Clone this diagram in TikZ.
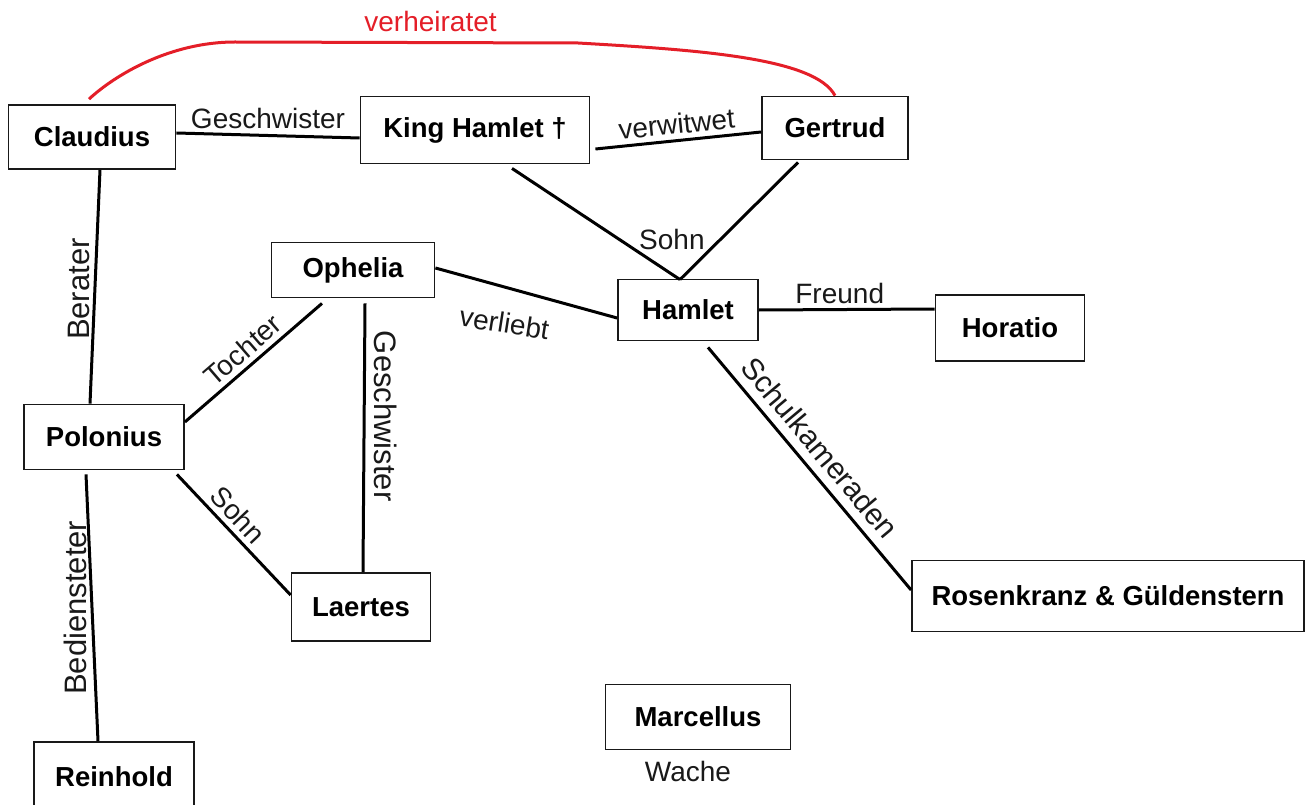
\documentclass[tikz,border=0pt]{standalone}
\usepackage{fontspec}
\setmainfont{Liberation Sans}
\usetikzlibrary{calc}
\definecolor{marry}{RGB}{228,30,40}
\definecolor{ink}{RGB}{25,25,25}
\begin{document}
\begin{tikzpicture}[x=1pt,y=-1pt,
  person/.style={draw=ink, line width=1.8pt, rectangle, inner sep=0pt, text=black,
    font=\fontsize{27.5}{33}\selectfont\bfseries},
  rel/.style={line width=3pt, draw=black},
  lbl/.style={font=\fontsize{28}{33}\selectfont, inner sep=3pt, text=ink},
  biglbl/.style={lbl, font=\fontsize{31}{36}\selectfont}]
\useasboundingbox (0,0) rectangle (1309,805);

% persons
\node[person, minimum width=167pt, minimum height=64pt] (cl) at (92,137) {Claudius};
\node[person, minimum width=229pt, minimum height=67pt] (kh) at (475,130) {King Hamlet †};
\node[person, minimum width=146pt, minimum height=63pt] (ge) at (835,128) {Gertrud};
\node[person, minimum width=163pt, minimum height=55pt] (op) at (353,270) {Ophelia};
\node[person, minimum width=140pt, minimum height=61pt] (ha) at (688,310) {Hamlet};
\node[person, minimum width=149pt, minimum height=66pt] (ho) at (1010,328) {Horatio};
\node[person, minimum width=160pt, minimum height=65pt] (po) at (104,437) {Polonius};
\node[person, minimum width=139pt, minimum height=68pt] (la) at (361,607) {Laertes};
\node[person, minimum width=392pt, minimum height=71pt] (rg) at (1108,596) {Rosenkranz \& Güldenstern};
\node[person, minimum width=185pt, minimum height=65pt,
      label={[lbl, xshift=-10pt, yshift=-8pt]below:Wache}] (ma) at (698,717) {Marcellus};
\node[person, minimum width=160pt, minimum height=70pt] (re) at (114,777) {Reinhold};

% married (red curve)
\coordinate (m1) at (235,42);
\coordinate (m2) at (578,43);
\draw[marry, line width=3pt]
  ([xshift=-3pt,yshift=5pt]cl.north) .. controls (115,75) and (170,42) .. (m1)
  -- node[lbl, pos=0.57, above=6pt, text=marry]{verheiratet} (m2)
  .. controls (700,50) and (815,58) .. (ge.north);

% relations
\draw[rel] ([yshift=4pt]cl.east) -- node[lbl, midway, above=2pt]{Geschwister} ([yshift=-8pt]kh.west);
\draw[rel] ([xshift=5pt,yshift=-19pt]kh.east) -- node[lbl, midway, sloped, above=2pt]{verwitwet} ([yshift=-4pt]ge.west);

\coordinate (hatop) at ([xshift=-8pt,yshift=-1pt]ha.north);
\draw[rel] ([xshift=37pt,yshift=-4pt]kh.south) -- (hatop);
\draw[rel] ([xshift=-37pt,yshift=-2pt]ge.south) -- node[lbl, pos=0.66, left=11pt]{Sohn} (hatop);

\draw[rel] ([xshift=8pt]cl.south) -- node[biglbl, pos=0.51, rotate=90, anchor=south, inner sep=4pt]{Berater} ([xshift=-14pt]po.north);

\draw[rel] ([yshift=2pt]op.east) -- node[lbl, pos=0.41, rotate=-9, yshift=-35pt]{verliebt} ([yshift=-8pt]ha.west);

\draw[rel] ([xshift=-31pt,yshift=-5pt]op.south) -- node[lbl, midway, sloped, above=2pt]{Tochter} ([yshift=15pt]po.east);

\draw[rel] ([xshift=12pt,yshift=-5pt]op.south) -- node[biglbl, pos=0.42, rotate=-90, anchor=south, inner sep=9pt]{Geschwister} ([xshift=2pt]la.north);

\draw[rel] ([xshift=-8pt,yshift=-4pt]po.south east) -- node[lbl, pos=0.43, sloped, above=2pt]{Sohn} ([yshift=12pt]la.west);

\draw[rel] ([xshift=-18pt,yshift=-4pt]po.south) -- node[biglbl, pos=0.5, rotate=90, anchor=south, inner sep=4pt]{Bediensteter} ([xshift=-16pt]re.north);

\draw[rel] (ha.east) -- node[lbl, pos=0.46, above=1pt]{Freund} ([yshift=19pt]ho.west);

\draw[rel] ([xshift=20pt,yshift=-6pt]ha.south) -- node[lbl, font=\fontsize{30}{35}\selectfont, pos=0.47, sloped, above=6pt]{Schulkameraden} ([yshift=6pt]rg.west);
\end{tikzpicture}
\end{document}
